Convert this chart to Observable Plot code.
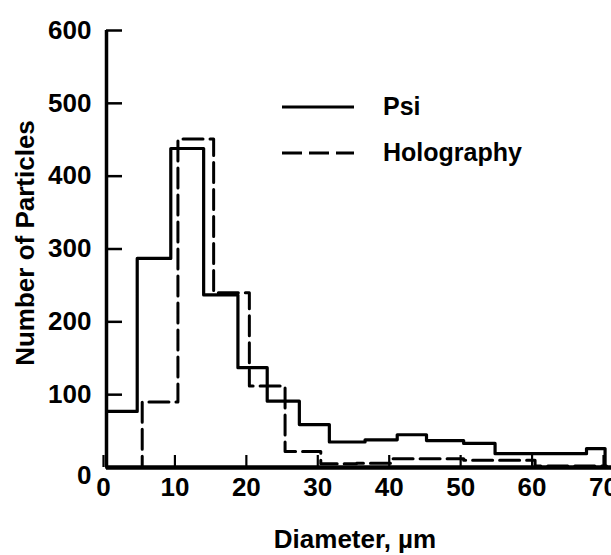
<!DOCTYPE html>
<html><head><meta charset="utf-8">
<script src="https://cdn.jsdelivr.net/npm/d3@7"></script>
<script src="https://cdn.jsdelivr.net/npm/@observablehq/plot@0.6"></script>
<style>
html,body{margin:0;padding:0;background:#fff;}
#wrap{position:relative;width:611px;height:555px;overflow:hidden;}
#legend{position:absolute;left:0;top:0;pointer-events:none;}
.f{font-family:"Liberation Sans",Arial,sans-serif;font-weight:bold;}
</style></head><body><div id="wrap"></div>
<script>
// Psi (solid) histogram: bin edges and counts
const psiEdges  = [0, 4.3, 9, 13.6, 18.4, 22.5, 27, 31.2, 36.2, 40.7, 44.8, 50, 54.4, 58.8, 63, 67.2, 69.8];
const psiCounts = [77, 287, 438, 237, 137, 91, 59, 35, 38, 45, 37, 33, 19, 19, 19, 26];
// Holography (dashed) histogram
const holoEdges  = [0, 5, 10, 15, 20, 25, 30, 35, 40, 45, 50, 55, 60, 65, 70];
const holoCounts = [0, 90, 451, 240, 112, 22, 5, 6, 12, 12, 10, 10, 2, 2];
const xTicks = [0, 10, 20, 30, 40, 50, 60, 70];
const yTicks = [100, 200, 300, 400, 500, 600];
const yZero = [0];
const seriesNames = ["Psi", "Holography"];
const xTitle = "Diameter, \u00b5m";
const yTitle = "Number of Particles";

function stepData(edges, counts) {
  const pts = counts.map((c, i) => ({x: edges[i], y: c}));
  pts.push({x: edges[edges.length - 1], y: 0});
  return pts;
}
const psi = stepData(psiEdges, psiCounts);
const holo = stepData(holoEdges, holoCounts);

const FONT = '"Liberation Sans",Arial,sans-serif';

const chart = Plot.plot({
  width: 611, height: 555,
  marginLeft: 106, marginRight: 0, marginTop: 30, marginBottom: 88,
  style: {fontFamily: FONT, fontWeight: "bold", fontSize: "26px", color: "#000", background: "#fff"},
  x: {domain: [0, 70.7]},
  y: {domain: [0, 600]},
  marks: [
    Plot.line(holo, {x: "x", y: "y", curve: "step-after", stroke: "#000", strokeWidth: 3, strokeDasharray: "20,7"}),
    Plot.line(psi, {x: "x", y: "y", curve: "step-after", stroke: "#000", strokeWidth: 3.2}),
    Plot.axisX(xTicks, {tickSize: -12, tickPadding: 22, strokeWidth: 2.2, fontSize: 26, label: null, dx: -3}),
    Plot.axisY(yTicks, {tickSize: -16, tickPadding: 31, strokeWidth: 2.5, fontSize: 26, label: null}),
    Plot.axisY(yZero, {tickSize: 0, tickPadding: 15, fontSize: 26, label: null, dy: 8}),
    Plot.ruleX([0], {stroke: "#000", strokeWidth: 3.5}),
    Plot.ruleY([0], {stroke: "#000", strokeWidth: 4.5}),
    Plot.text([xTitle], {frameAnchor: "bottom", text: d => d, dx: -4, dy: 80, lineAnchor: "bottom", fontSize: 26, fontWeight: "bold"}),
    Plot.text([yTitle], {frameAnchor: "left", textAnchor: "middle", text: d => d, rotate: -90, dx: -73, dy: -6, lineAnchor: "bottom", fontSize: 26, fontWeight: "bold"})
  ]
});
const wrap = document.getElementById("wrap");
wrap.appendChild(chart);

// legend overlay
const ns = "http://www.w3.org/2000/svg";
const lg = document.createElementNS(ns, "svg");
lg.setAttribute("id", "legend");
lg.setAttribute("width", 611); lg.setAttribute("height", 555);
const items = [
  {name: seriesNames[0], y: 107, dash: null},
  {name: seriesNames[1], y: 153, dash: "20,7"}
];
items.forEach(it => {
  const l = document.createElementNS(ns, "line");
  l.setAttribute("x1", 282); l.setAttribute("x2", 354);
  l.setAttribute("y1", it.y); l.setAttribute("y2", it.y);
  l.setAttribute("stroke", "#000"); l.setAttribute("stroke-width", 3);
  if (it.dash) l.setAttribute("stroke-dasharray", it.dash);
  lg.appendChild(l);
  const t = document.createElementNS(ns, "text");
  t.setAttribute("x", 383); t.setAttribute("y", it.y + 8);
  t.setAttribute("class", "f"); t.setAttribute("font-size", 25);
  t.textContent = it.name;
  lg.appendChild(t);
});
wrap.appendChild(lg);
</script></body></html>
